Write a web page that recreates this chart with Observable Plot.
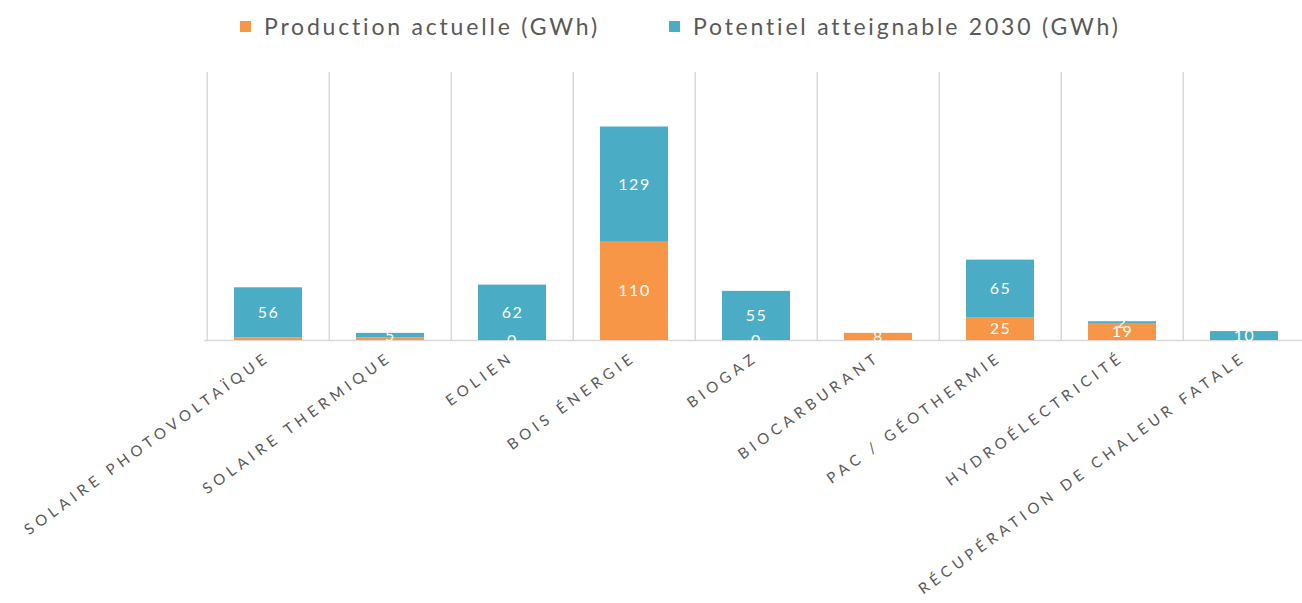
<!DOCTYPE html>
<html>
<head>
<meta charset="utf-8">
<script src="https://cdn.jsdelivr.net/npm/d3@7"></script>
<script src="https://cdn.jsdelivr.net/npm/@observablehq/plot@0.6"></script>
<style>
  html, body { margin: 0; padding: 0; background: #fff; }
  #legend { height: 55px; position: relative; font-family: Lato, sans-serif; font-size: 23px; color: #595959; letter-spacing: 2.8px; }
  .item { position: absolute; top: 12px; display: flex; align-items: center; white-space: nowrap; }
  .sw { width: 11px; height: 11px; margin-right: 13px; }
  #chart svg g[aria-label="x-axis tick label"] text { letter-spacing: 4.6px; }
  #chart svg g[aria-label="text"] text { letter-spacing: 1.5px; }
</style>
</head>
<body>
<div id="legend"></div>
<div id="chart"></div>
<script>
const categories = ["SOLAIRE PHOTOVOLTAÏQUE", "SOLAIRE THERMIQUE", "EOLIEN", "BOIS ÉNERGIE", "BIOGAZ", "BIOCARBURANT", "PAC / GÉOTHERMIE", "HYDROÉLECTRICITÉ", "RÉCUPÉRATION DE CHALEUR FATALE"];
const seriesNames = ["Production actuelle (GWh)", "Potentiel atteignable 2030 (GWh)"];
const seriesColors = ["#F79646", "#4BACC6"];
const production = [3, 3, 0, 110, 0, 8, 25, 19, 0];
const potentiel = [56, 5, 62, 129, 55, 0, 65, 2, 10];
const productionLabels = ["", "", "0", "110", "0", "8", "25", "19", ""];
const potentielLabels = ["56", "5", "62", "129", "55", "", "65", "2", "10"];

const data = [];
categories.forEach((c, i) => data.push({cat: c, series: seriesNames[0], value: production[i], label: productionLabels[i]}));
categories.forEach((c, i) => data.push({cat: c, series: seriesNames[1], value: potentiel[i], label: potentielLabels[i]}));

// legend
const legend = document.getElementById("legend");
const legendLeft = [240, 669];
seriesNames.forEach((s, i) => {
  const it = document.createElement("div");
  it.className = "item";
  it.style.left = legendLeft[i] + "px";
  it.innerHTML = `<span class="sw" style="background:${seriesColors[i]}"></span><span>${s}</span>`;
  legend.appendChild(it);
});

const xRange = [204, 1307];
const step = (xRange[1] - xRange[0]) / categories.length;

const chart = Plot.plot({
  width: 1302,
  height: 548,
  marginTop: 17,
  marginBottom: 263,
  marginLeft: 204,
  marginRight: 0,
  style: {fontFamily: "Lato, sans-serif", background: "white"},
  x: {domain: categories, range: xRange, paddingInner: 0.445, paddingOuter: 0.2225, label: null},
  y: {domain: [0, 300], axis: null},
  color: {domain: seriesNames, range: seriesColors},
  marks: [
    Plot.ruleX(categories, {x: d => d, dx: -step / 2, y1: 0, y2: 300, stroke: "#d9d9d9", strokeWidth: 1.5}),
    Plot.ruleY([0], {stroke: "#d9d9d9", strokeWidth: 1.5}),
    Plot.barY(data, Plot.stackY({x: "cat", y: "value", fill: "series", order: null})),
    Plot.text(data, Plot.stackY({x: "cat", y: "value", z: "series", text: "label", fill: "white", fontSize: 16, order: null})),
    Plot.axisX({tickSize: 0, tickPadding: 15, tickRotate: -36, fontSize: 15, fill: "#595959", label: null})
  ]
});
document.getElementById("chart").appendChild(chart);
</script>
</body>
</html>
